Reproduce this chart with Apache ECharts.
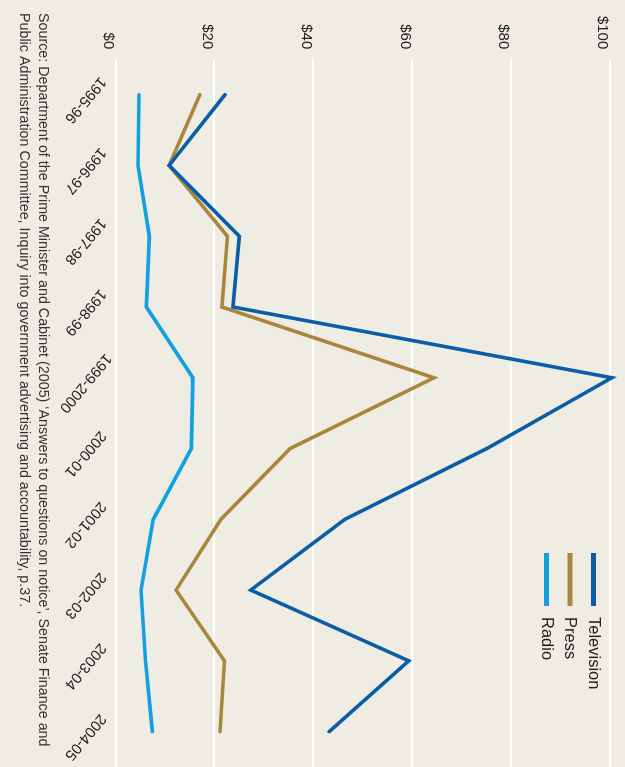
<!DOCTYPE html>
<html>
<head>
<meta charset="utf-8">
<title>Advertising expenditure by medium</title>
<script src="https://cdn.jsdelivr.net/npm/echarts@6/dist/echarts.min.js"></script>
<style>
  html, body { margin: 0; padding: 0; background: #efece4; overflow: hidden; }
  /* the chart is drawn upright and then turned a quarter clockwise */
  #chart {
    position: absolute; left: 0; top: 0;
    width: 767px; height: 625px;
    transform-origin: 0 0;
    transform: translate(625px, 0) rotate(90deg);
  }
</style>
</head>
<body>
<div id="chart"></div>
<script>
const years = ['1995-96', '1996-97', '1997-98', '1998-99', '1999-2000', '2000-01', '2001-02', '2002-03', '2003-04', '2004-05'];
const television = [22.1, 10.8, 25.0, 23.7, 100.4, 75.1, 46.4, 27.3, 59.3, 43.2];
const press = [17.0, 10.8, 22.6, 21.5, 64.4, 35.3, 21.3, 12.2, 22.0, 21.1];
const radio = [4.7, 4.5, 6.8, 6.2, 15.6, 15.3, 7.6, 5.1, 6.0, 7.4];
const valueMax = 100;
const valueStep = 20;

const fontFamily = '"Liberation Sans", Arial, sans-serif';
const sourceText = 'Source: Department of the Prime Minister and Cabinet (2005) \u2018Answers to questions on notice\u2019, Senate Finance and\n' +
  'Public Administration Committee, Inquiry into government advertising and accountability, p.37.';

const chart = echarts.init(document.getElementById('chart'), null, { renderer: 'canvas', devicePixelRatio: 1 });

// series line style shared by all three media
function mediaLine(name, data, color) {
  return {
    name: name,
    type: 'line',
    data: data,
    showSymbol: false,
    clip: false,
    color: color,
    lineStyle: { width: 3.6, color: color, join: 'miter', cap: 'round' },
    emphasis: { disabled: true }
  };
}

chart.setOption({
  backgroundColor: '#efece4',
  animation: false,
  textStyle: { fontFamily: fontFamily },
  grid: { left: 59.3, right: -5.7, top: 15.2, bottom: 115.8, containLabel: false },
  legend: {
    orient: 'vertical',
    left: 548,
    top: 18,
    itemWidth: 53,
    itemHeight: 5,
    itemGap: 6.5,
    icon: 'rect',
    data: ['Television', 'Press', 'Radio'],
    textStyle: { fontSize: 16.5, color: '#222', fontFamily: fontFamily, padding: [0, 0, 0, 6] }
  },
  xAxis: {
    type: 'category',
    data: years,
    boundaryGap: true,
    axisLine: { show: false },
    axisTick: { show: false },
    axisLabel: {
      rotate: -40,
      align: 'center',
      verticalAlign: 'middle',
      margin: 26,
      padding: [0, 0, 0, 14],
      fontSize: 15,
      color: '#222',
      interval: 0
    }
  },
  yAxis: {
    type: 'value',
    min: 0,
    max: valueMax,
    interval: valueStep,
    axisLine: { show: false },
    axisTick: { show: false },
    splitLine: { lineStyle: { color: '#ffffff', width: 2 } },
    axisLabel: {
      margin: 10,
      fontSize: 15,
      color: '#222',
      verticalAlign: 'top',
      formatter: v => '$' + v
    }
  },
  graphic: [{
    type: 'text',
    left: 13,
    top: 573,
    style: { text: sourceText, font: '14.3px ' + fontFamily, lineHeight: 19, fill: '#333' }
  }],
  series: [
    mediaLine('Radio', radio, '#13a0e2'),
    mediaLine('Press', press, '#a8873d'),
    mediaLine('Television', television, '#0b5ea6')
  ]
});
</script>
</body>
</html>
